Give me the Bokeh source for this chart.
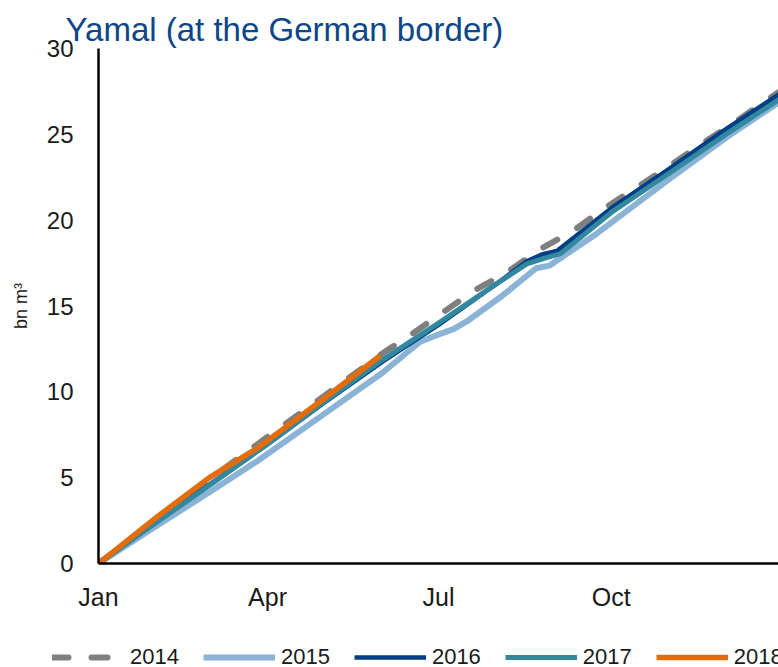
from bokeh.plotting import figure
from bokeh.models import Range1d, FixedTicker, Legend, LegendItem
from bokeh.embed import file_html
from bokeh.resources import INLINE

# ---- data (day of year, bn m3 cumulative) ----
days_2014 = [0, 31, 59, 84, 120, 152, 166, 183, 200, 218, 235, 253, 268, 285, 302, 319, 336, 364]
vals_2014 = [0, 2.6, 4.9, 6.9, 9.75, 12.3, 13.3, 14.6, 15.9, 17.0, 18.3, 19.4, 20.6, 21.8, 23.0, 24.3, 25.5, 27.6]

days_2015 = [0, 31, 59, 85, 120, 151, 171, 180, 189, 196, 215, 233, 240, 265, 304, 334, 364]
vals_2015 = [0, 2.2, 4.15, 6.0, 8.7, 11.1, 12.9, 13.3, 13.65, 14.1, 15.6, 17.2, 17.35, 19.2, 22.4, 24.8, 27.0]

days_2016 = [0, 31, 59, 90, 120, 151, 181, 212, 228, 236, 244, 273, 304, 334, 364]
vals_2016 = [0, 2.45, 4.6, 6.95, 9.35, 11.75, 13.9, 16.3, 17.6, 18.0, 18.2, 20.7, 23.0, 25.3, 27.45]

days_2017 = [0, 31, 59, 90, 120, 151, 181, 212, 228, 238, 246, 273, 304, 334, 364]
vals_2017 = [0, 2.4, 4.55, 6.95, 9.4, 11.85, 14.0, 16.3, 17.45, 17.8, 18.05, 20.45, 22.75, 25.0, 27.15]

days_2018 = [0, 31, 59, 85, 120, 150]
vals_2018 = [0, 2.7, 5.0, 6.75, 9.6, 12.1]

tick_days = [0, 90, 181, 273]
tick_labels = ["Jan", "Apr", "Jul", "Oct"]
y_ticks = [0, 5, 10, 15, 20, 25, 30]

years = ["2014", "2015", "2016", "2017", "2018"]
series_days = [days_2014, days_2015, days_2016, days_2017, days_2018]
series_vals = [vals_2014, vals_2015, vals_2016, vals_2017, vals_2018]
colors = ["#7f7f7f", "#8ab3d5", "#003e85", "#31889f", "#e46c0a"]
widths = [6, 6, 4.5, 5, 5.5]

FONT = "Liberation Sans"
TXT = "#1a1a1a"


def style_kwargs(i):
    kw = dict(line_color=colors[i], line_width=widths[i], line_join="round")
    if i == 0:
        kw.update(line_dash="16 23", line_cap="round")
    return kw


p = figure(width=778, height=620, output_backend="svg", toolbar_location=None,
           x_range=Range1d(0, 362), y_range=Range1d(0, 30))
p.min_border_left = 98
p.min_border_right = 0
p.min_border_top = 48
p.min_border_bottom = 57
p.outline_line_color = None
p.xgrid.grid_line_color = None
p.ygrid.grid_line_color = None

p.title.text = "Yamal (at the German border)"
p.title.text_font = FONT
p.title.text_font_size = "33px"
p.title.text_font_style = "normal"
p.title.text_color = "#0a4689"
p.title.align = "left"
p.title.offset = -33
p.title.standoff = 2

for ax in (p.xaxis[0], p.yaxis[0]):
    ax.axis_line_color = "black"
    ax.axis_line_width = 2.5
    ax.major_tick_line_color = None
    ax.minor_tick_line_color = None
    ax.major_tick_out = 0
    ax.major_tick_in = 0
    ax.major_label_text_font = FONT
    ax.major_label_text_color = TXT

p.xaxis.major_label_text_font_size = "25px"
p.yaxis.major_label_text_font_size = "24px"
p.xaxis.ticker = FixedTicker(ticks=tick_days)
p.xaxis.major_label_overrides = {d: l for d, l in zip(tick_days, tick_labels)}
p.xaxis.major_label_standoff = 19
p.yaxis.ticker = FixedTicker(ticks=y_ticks)
p.yaxis.major_label_standoff = 25
p.yaxis.axis_label = "bn m³"
p.yaxis.axis_label_text_font = FONT
p.yaxis.axis_label_text_font_style = "normal"
p.yaxis.axis_label_text_font_size = "18px"
p.yaxis.axis_label_text_color = TXT
p.yaxis.axis_label_standoff = 13

for i in range(len(years)):
    p.line(series_days[i], series_vals[i], **style_kwargs(i))

# ---- legend strip below the chart (separate root, so its frame is the full strip) ----
# its ranges lie far away from the data, so the series lines themselves are not visible here
lf = figure(width=778, height=47, output_backend="svg", toolbar_location=None,
            x_range=Range1d(5000, 5001), y_range=Range1d(5000, 5001))
lf.min_border = 0
lf.outline_line_color = None
lf.axis.visible = False
lf.xgrid.grid_line_color = None
lf.ygrid.grid_line_color = None

items = []
for i, yr in enumerate(years):
    r = lf.line(series_days[i], series_vals[i], **style_kwargs(i))
    items.append(LegendItem(label=yr, renderers=[r]))

legend = Legend(items=items, orientation="horizontal", location=(52, -3))
legend.glyph_width = 72
legend.glyph_height = 22
legend.label_standoff = 6
legend.label_width = 48
legend.spacing = 24
legend.padding = 0
legend.margin = 0
legend.border_line_color = None
legend.background_fill_alpha = 0
legend.label_text_font = FONT
legend.label_text_font_size = "22px"
legend.label_text_color = TXT
lf.add_layout(legend, "center")

open("out.html", "w").write(file_html([p, lf], INLINE))
